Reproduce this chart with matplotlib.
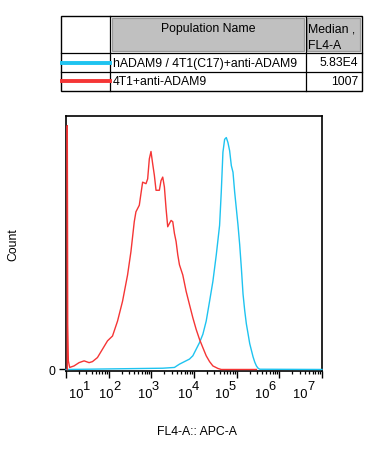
import matplotlib
matplotlib.use("Agg")
import matplotlib.pyplot as plt
from matplotlib.patches import Rectangle
from matplotlib.lines import Line2D
from matplotlib.transforms import blended_transform_factory
import numpy as np

plt.rcParams["font.family"] = ["Liberation Sans", "DejaVu Sans"]

W, H = 374, 452

# histogram traces, x given as log10(FL4-A), y as % of axis height
BLUE_LOGX = [1.0, 3.267, 3.541, 3.659, 3.776, 3.894, 3.973, 4.051, 4.129, 4.208,
             4.286, 4.365, 4.443, 4.522, 4.600, 4.639, 4.678, 4.718, 4.757, 4.796,
             4.835, 4.875, 4.914, 4.953, 4.992, 5.031, 5.071, 5.110, 5.149, 5.188,
             5.227, 5.267, 5.306, 5.345, 5.384, 5.424, 5.463, 5.502, 5.541, 7.0]
BLUE_Y = [0, 0.5, 0.8, 2.1, 3.1, 4.1, 5.4, 8.0, 10.6, 13.9,
          19.1, 26.9, 34.8, 45.2, 56.9, 70.0, 85.7, 90.8, 91.5, 89.5,
          86.3, 80.4, 77.8, 70.0, 63.5, 57.0, 49.2, 40.0, 29.8, 23.3,
          18.0, 14.1, 10.2, 7.6, 5.0, 2.9, 1.4, 0.5, 0.1, 0]

RED_LOGX = [1.03, 1.03, 1.035, 1.04, 1.055, 1.086, 1.188, 1.306, 1.424, 1.541,
            1.620, 1.737, 1.855, 1.973, 2.090, 2.208, 2.325, 2.443, 2.522, 2.600,
            2.639, 2.718, 2.757, 2.796, 2.875, 2.914, 2.953, 2.992, 3.031, 3.071,
            3.110, 3.188, 3.227, 3.267, 3.306, 3.345, 3.384, 3.424, 3.463, 3.502,
            3.541, 3.580, 3.620, 3.659, 3.737, 3.816, 3.894, 3.973, 4.051, 4.129,
            4.208, 4.286, 4.365, 4.443, 4.561, 4.639, 5.463]
RED_Y = [0, 96.2, 63.5, 17.8, 3.4, 0.8, 1.4, 2.7, 3.4, 2.7,
         3.1, 4.7, 8.0, 11.3, 13.2, 19.1, 26.9, 37.3, 46.5, 58.3,
         62.2, 64.8, 69.4, 73.9, 73.3, 75.2, 83.1, 86.0, 81.2, 76.6,
         70.7, 70.7, 74.5, 75.9, 72.0, 63.5, 56.3, 57.6, 58.8, 58.3,
         53.7, 50.5, 45.2, 41.3, 37.3, 30.8, 25.6, 20.4, 15.8, 11.9,
         8.6, 5.4, 3.1, 1.4, 0.4, 0, 0]

DECADES = [1, 2, 3, 4, 5, 6, 7]
# where the "10^n" labels sit along the axis (log10 units), as drawn
LABEL_POS = [1.247, 1.953, 2.852, 3.793, 4.654, 5.595, 6.499]

POP_NAMES = ["hADAM9 / 4T1(C17)+anti-ADAM9", "4T1+anti-ADAM9"]
MEDIANS = ["5.83E4", "1007"]
COLORS = ["#1ec3f0", "#f53535"]

FS = 8.8

fig = plt.figure(figsize=(W / 100, H / 100), dpi=100)


def fx(x):
    return x / W


def fy(y):
    return 1 - y / H


# ---- legend table ----
tf = fig.transFigure
L, R, T, B = 61, 361.7, 16.7, 91.7
fig.patches.append(Rectangle((fx(L), fy(B)), fx(R) - fx(L), fy(T) - fy(B),
                             transform=tf, fill=False, lw=1.0, ec="black"))
for xv in (110, 306):
    fig.lines.append(Line2D([fx(xv)] * 2, [fy(T), fy(B)], transform=tf, color="black", lw=0.9))
for yv in (54.3, 73.3):
    fig.lines.append(Line2D([fx(L), fx(R)], [fy(yv)] * 2, transform=tf, color="black", lw=0.9))
for x0, x1 in ((112.3, 304), (307.3, 360)):
    fig.patches.append(Rectangle((fx(x0), fy(51.7)), fx(x1) - fx(x0), fy(19) - fy(51.7),
                                 transform=tf, fc="#c0c0c0", ec="#9a9a9a", lw=0.9))
fig.text(fx(208), fy(29), "Population Name", ha="center", va="center", fontsize=FS)
fig.text(fx(308), fy(29), "Median ,", ha="left", va="center", fontsize=FS)
fig.text(fx(308), fy(46), "FL4-A", ha="left", va="center", fontsize=FS)
for i, (name, med, col) in enumerate(zip(POP_NAMES, MEDIANS, COLORS)):
    yc = 63.5 + i * 18.5
    fig.lines.append(Line2D([fx(61.5), fx(110)], [fy(yc)] * 2, transform=tf, color=col, lw=2.8))
    fig.text(fx(113), fy(yc), name, ha="left", va="center", fontsize=FS)
    fig.text(fx(358.5), fy(yc), med, ha="right", va="center", fontsize=FS)

# ---- histogram ----
ax = fig.add_axes([fx(66), fy(372), fx(322) - fx(66), fy(117) - fy(372)])
ax.plot(10 ** np.array(BLUE_LOGX), BLUE_Y, color=COLORS[0], lw=1.0, clip_on=False, zorder=3)
ax.plot(10 ** np.array(RED_LOGX), RED_Y, color=COLORS[1], lw=1.0, clip_on=False, zorder=3)
ax.set_xscale("log")
ax.set_xlim(10, 1e7)
ax.set_ylim(-0.6, 100)
for sp in ax.spines.values():
    sp.set_linewidth(1.2)

ax.set_xticks([10.0 ** d for d in DECADES])
ax.set_xticks([m * 10.0 ** d for d in DECADES[:-1] for m in range(2, 10)], minor=True)
ax.set_xticklabels([])
ax.set_xticklabels([], minor=True)
ax.tick_params(axis="x", which="major", direction="out", length=4.7, width=1.0)
ax.tick_params(axis="x", which="minor", direction="out", length=2.3, width=0.9)
ax.set_yticks([0])
ax.set_yticklabels(["0"], fontsize=FS)
ax.tick_params(axis="y", direction="out", length=5, width=1.0, pad=3)

bt = blended_transform_factory(ax.transData, fig.transFigure)
for d, pos in zip(DECADES, LABEL_POS):
    ax.text(10 ** pos, fy(395.5), "10", transform=bt, ha="center", va="center",
            fontsize=9.3, clip_on=False)
    ax.text(10 ** (pos + 0.235), fy(387), str(d), transform=bt, ha="center", va="center",
            fontsize=9.3, clip_on=False)

fig.text(fx(13), fy(245), "Count", rotation=90, ha="center", va="center", fontsize=FS)
fig.text(fx(197), fy(432), "FL4-A:: APC-A", ha="center", va="center", fontsize=FS)

fig.savefig("out.png", dpi=100)
